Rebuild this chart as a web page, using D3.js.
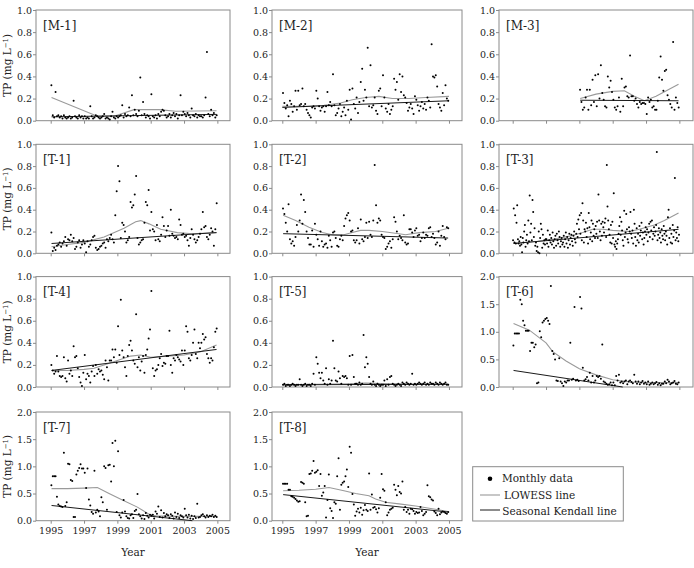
<!DOCTYPE html>
<html><head><meta charset="utf-8">
<script src="https://cdn.jsdelivr.net/npm/d3@7"></script>
<style>body{margin:0;background:#fff}svg{display:block}text{font-family:"DejaVu Serif",serif;fill:#222}</style>
</head><body><svg id="c" width="694" height="568"></svg>
<script>
// ---------- data ----------
const panelNames = ["[M-1]","[M-2]","[M-3]","[T-1]","[T-2]","[T-3]","[T-4]","[T-5]","[T-6]","[T-7]","[T-8]"];
const yTicks1 = [0,0.2,0.4,0.6,0.8,1.0];
const yTicks2 = [0,0.5,1.0,1.5,2.0];
const xTicks = [1995,1997,1999,2001,2003,2005];
const legendLabels = ["Monthly data","LOWESS line","Seasonal Kendall line"];

const m1Values = [0.32,0.05,0.03,0.26,0.04,0.05,0.03,0.04,0.02,0.05,0.03,0.02,
0.03,0.04,0.02,0.03,0.18,0.04,0.03,0.02,0.05,0.03,0.04,0.02,
0.04,0.02,0.03,0.02,0.13,0.04,0.02,0.03,0.05,0.04,0.03,0.02,
0.03,0.04,0.06,0.02,0.03,0.02,0.01,0.04,0.08,0.03,0.02,0.04,
0.03,0.04,0.05,0.14,0.03,0.06,0.04,0.05,0.12,0.04,0.23,0.05,
0.10,0.06,0.04,0.09,0.39,0.05,0.17,0.06,0.03,0.05,0.04,0.02,
0.24,0.04,0.03,0.05,0.02,0.06,0.04,0.08,0.10,0.09,0.05,0.03,
0.04,0.06,0.03,0.05,0.07,0.04,0.06,0.02,0.05,0.23,0.05,0.08,
0.06,0.04,0.07,0.05,0.03,0.11,0.05,0.04,0.06,0.03,0.05,0.04,
0.04,0.03,0.05,0.21,0.62,0.06,0.04,0.10,0.05,0.07,0.03,0.05];
const m1Lowess = [[1995.05,0.21],[1997.8,0.04],[1998.8,0.04],[2000.0,0.10],[2001.5,0.10],[2002.5,0.085],[2004.95,0.09]];
const m1Kendall = [[1995.05,0.035],[2004.95,0.057]];

const m2Values = [0.25,0.16,0.11,0.14,0.04,0.18,0.15,0.08,0.13,0.27,0.10,0.27,
0.14,0.15,0.29,0.13,0.15,0.10,0.07,0.05,0.03,0.12,0.13,0.11,
0.27,0.20,0.13,0.09,0.12,0.13,0.08,0.13,0.26,0.14,0.17,0.13,
0.42,0.14,0.05,0.07,0.11,0.15,0.04,0.08,0.12,0.05,0.18,0.10,
0.28,0.01,0.29,0.15,0.11,0.21,0.07,0.17,0.35,0.47,0.18,0.28,
0.21,0.66,0.13,0.50,0.12,0.14,0.21,0.09,0.06,0.27,0.29,0.13,
0.41,0.21,0.11,0.08,0.15,0.06,0.10,0.13,0.38,0.28,0.35,0.19,
0.42,0.26,0.40,0.23,0.21,0.16,0.09,0.12,0.15,0.11,0.06,0.22,
0.19,0.14,0.09,0.13,0.17,0.11,0.15,0.10,0.21,0.18,0.12,0.69,
0.40,0.39,0.41,0.31,0.15,0.12,0.09,0.25,0.14,0.32,0.20,0.18];
const m2Lowess = [[1995.0,0.13],[1996.5,0.13],[1997.5,0.14],[1998.5,0.16],[1999.2,0.19],[2000.0,0.21],[2000.8,0.22],[2001.6,0.20],[2002.6,0.20],[2003.6,0.21],[2005.0,0.22]];
const m2Kendall = [[1995.0,0.12],[2005.0,0.18]];

const m3Values = [0.28,0.17,0.10,0.12,0.21,0.28,0.10,0.28,0.14,0.37,0.17,0.41,
0.13,0.42,0.20,0.50,0.25,0.19,0.13,0.12,0.40,0.30,0.36,0.26,
0.19,0.12,0.10,0.13,0.21,0.08,0.38,0.13,0.30,0.31,0.22,0.21,
0.59,0.22,0.22,0.18,0.20,0.15,0.12,0.17,0.15,0.16,0.16,0.15,
0.06,0.21,0.17,0.19,0.12,0.13,0.10,0.10,0.18,0.39,0.58,0.37,
0.27,0.45,0.46,0.23,0.19,0.15,0.12,0.71,0.10,0.21,0.16,0.12];
const m3Lowess = [[1999.05,0.20],[2000.0,0.24],[2001.0,0.265],[2001.7,0.27],[2002.3,0.22],[2002.9,0.18],[2003.6,0.22],[2004.95,0.33]];
const m3Kendall = [[1999.05,0.185],[2004.95,0.18]];

const t1Values = [0.19,0.02,0.05,0.03,0.07,0.08,0.10,0.06,0.09,0.11,0.15,0.07,
0.13,0.12,0.17,0.11,0.14,0.04,0.06,0.10,0.12,0.05,0.08,0.12,
0.09,0.01,0.11,0.06,0.08,0.12,0.15,0.16,0.05,0.03,0.04,0.06,
0.07,0.09,0.10,0.05,0.13,0.11,0.14,0.17,0.13,0.10,0.35,0.57,
0.80,0.66,0.14,0.28,0.26,0.20,0.10,0.12,0.15,0.47,0.42,0.44,
0.54,0.71,0.14,0.08,0.10,0.12,0.13,0.28,0.47,0.44,0.58,0.21,
0.38,0.22,0.20,0.12,0.26,0.13,0.11,0.17,0.33,0.25,0.15,0.21,
0.25,0.16,0.40,0.18,0.16,0.14,0.15,0.13,0.31,0.26,0.17,0.18,
0.15,0.16,0.12,0.07,0.14,0.22,0.17,0.13,0.10,0.12,0.15,0.18,
0.22,0.38,0.24,0.25,0.15,0.13,0.17,0.23,0.20,0.07,0.22,0.46];
const t1Lowess = [[1995.05,0.06],[1996.0,0.08],[1997.0,0.10],[1998.2,0.15],[1999.4,0.23],[2000.1,0.29],[2000.4,0.30],[2000.9,0.27],[2001.6,0.22],[2002.6,0.19],[2003.5,0.18],[2004.95,0.19]];
const t1Kendall = [[1995.05,0.09],[2004.95,0.19]];

const t2Values = [0.41,0.36,0.28,0.20,0.45,0.13,0.09,0.11,0.07,0.15,0.26,0.20,
0.30,0.54,0.27,0.49,0.38,0.20,0.14,0.08,0.08,0.21,0.06,0.27,
0.17,0.13,0.07,0.20,0.11,0.06,0.08,0.09,0.05,0.16,0.12,0.06,
0.19,0.20,0.14,0.07,0.06,0.13,0.16,0.12,0.25,0.32,0.35,0.37,
0.30,0.20,0.21,0.12,0.10,0.12,0.23,0.09,0.31,0.13,0.11,0.15,
0.28,0.14,0.29,0.17,0.15,0.30,0.81,0.44,0.28,0.32,0.30,0.17,
0.15,0.14,0.04,0.06,0.09,0.11,0.05,0.13,0.33,0.29,0.20,0.13,
0.16,0.14,0.12,0.35,0.10,0.08,0.09,0.22,0.22,0.19,0.15,0.21,
0.23,0.16,0.17,0.11,0.14,0.19,0.14,0.17,0.16,0.23,0.24,0.15,
0.18,0.14,0.08,0.10,0.20,0.07,0.16,0.25,0.15,0.13,0.24,0.23];
const t2Lowess = [[1995.05,0.35],[1995.8,0.30],[1996.6,0.24],[1997.4,0.19],[1998.0,0.17],[1998.7,0.17],[1999.2,0.19],[1999.7,0.21],[2000.2,0.21],[2001.0,0.20],[2002.0,0.18],[2002.4,0.17],[2003.2,0.19],[2004.2,0.20],[2004.95,0.23]];
const t2Kendall = [[1995.05,0.18],[2004.95,0.14]];

const t3Values = [0.12,0.41,0.10,0.35,0.09,0.28,0.44,0.13,0.09,0.11,0.07,0.15,0.08,0.01,0.14,0.10,0.20,0.26,0.06,0.12,0.17,0.09,0.30,0.11,
0.53,0.19,0.27,0.12,0.49,0.38,0.15,0.23,0.07,0.10,0.02,0.06,0.01,0.20,0.00,0.14,0.27,0.22,0.05,0.17,0.09,0.12,0.08,0.13,
0.13,0.09,0.21,0.06,0.12,0.17,0.10,0.14,0.08,0.19,0.11,0.05,0.13,0.16,0.07,0.18,0.12,0.09,0.20,0.15,0.06,0.11,0.14,0.08,
0.10,0.16,0.06,0.13,0.19,0.09,0.15,0.05,0.12,0.18,0.08,0.14,0.17,0.11,0.07,0.16,0.20,0.13,0.10,0.18,0.27,0.15,0.31,0.22,
0.35,0.18,0.37,0.12,0.46,0.30,0.10,0.22,0.20,0.28,0.15,0.23,0.09,0.37,0.24,0.13,0.19,0.30,0.11,0.27,0.16,0.22,0.14,0.25,
0.18,0.29,0.14,0.54,0.30,0.20,0.12,0.27,0.16,0.29,0.24,0.19,0.28,0.32,0.15,0.81,0.43,0.30,0.22,0.17,0.10,0.26,0.09,0.29,
0.14,0.55,0.08,0.06,0.11,0.04,0.09,0.13,0.18,0.25,0.33,0.17,0.29,0.21,0.12,0.07,0.39,0.15,0.19,0.36,0.22,0.13,0.10,0.24,
0.20,0.38,0.18,0.14,0.21,0.09,0.40,0.27,0.15,0.07,0.23,0.12,0.18,0.10,0.25,0.16,0.21,0.28,0.13,0.19,0.08,0.14,0.20,0.24,
0.17,0.22,0.11,0.19,0.27,0.15,0.29,0.21,0.30,0.13,0.18,0.24,0.16,0.20,0.26,0.93,0.12,0.17,0.23,0.14,0.19,0.10,0.22,0.16,
0.13,0.25,0.18,0.12,0.20,0.16,0.08,0.33,0.40,0.14,0.23,0.10,0.18,0.09,0.26,0.15,0.21,0.69,0.12,0.19,0.14,0.24,0.11,0.17];
const t3Lowess = [[1995.05,0.09],[1996.5,0.11],[1997.5,0.13],[1998.5,0.16],[1999.2,0.19],[1999.8,0.22],[2000.4,0.22],[2001.0,0.21],[2002.0,0.20],[2002.6,0.22],[2003.5,0.26],[2004.1,0.30],[2004.95,0.37]];
const t3Kendall = [[1995.05,0.09],[2004.95,0.22]];

const t4Values = [0.20,0.15,0.12,0.14,0.28,0.14,0.10,0.09,0.10,0.27,0.08,0.05,
0.24,0.12,0.15,0.10,0.37,0.27,0.28,0.17,0.09,0.04,0.01,0.13,
0.29,0.07,0.12,0.10,0.04,0.14,0.19,0.10,0.20,0.12,0.16,0.14,
0.15,0.11,0.07,0.24,0.18,0.06,0.24,0.24,0.34,0.27,0.34,0.22,
0.55,0.29,0.79,0.33,0.27,0.18,0.10,0.28,0.38,0.42,0.33,0.24,
0.21,0.66,0.18,0.27,0.15,0.23,0.28,0.13,0.29,0.34,0.44,0.52,
0.87,0.17,0.10,0.15,0.16,0.20,0.26,0.30,0.19,0.22,0.21,0.28,
0.28,0.51,0.20,0.13,0.26,0.24,0.29,0.27,0.25,0.23,0.33,0.20,
0.33,0.55,0.50,0.26,0.24,0.29,0.40,0.52,0.30,0.26,0.40,0.35,
0.40,0.48,0.43,0.45,0.30,0.26,0.22,0.26,0.24,0.36,0.50,0.53];
const t4Lowess = [[1995.05,0.15],[1996.0,0.15],[1997.0,0.16],[1997.6,0.17],[1998.2,0.20],[1999.0,0.24],[1999.8,0.28],[2000.4,0.29],[2001.0,0.27],[2002.0,0.28],[2003.0,0.29],[2004.0,0.32],[2004.95,0.38]];
const t4Kendall = [[1995.05,0.15],[2004.95,0.34]];

const t5Values = [0.02,0.03,0.01,0.02,0.02,0.01,0.02,0.03,0.02,0.01,0.02,0.02,
0.07,0.02,0.01,0.02,0.03,0.01,0.02,0.02,0.01,0.03,0.12,0.02,
0.27,0.21,0.13,0.08,0.13,0.06,0.03,0.17,0.02,0.07,0.03,0.06,
0.42,0.17,0.06,0.05,0.14,0.08,0.03,0.10,0.09,0.10,0.08,0.02,
0.28,0.02,0.29,0.09,0.03,0.03,0.02,0.04,0.02,0.03,0.47,0.18,
0.27,0.21,0.09,0.03,0.02,0.05,0.02,0.01,0.03,0.02,0.01,0.02,
0.02,0.06,0.01,0.07,0.02,0.09,0.10,0.03,0.02,0.01,0.02,0.03,
0.02,0.01,0.04,0.03,0.02,0.04,0.03,0.02,0.03,0.12,0.02,0.03,
0.02,0.03,0.04,0.03,0.02,0.03,0.04,0.02,0.03,0.02,0.04,0.03,
0.03,0.02,0.04,0.03,0.02,0.04,0.03,0.02,0.03,0.04,0.02,0.02];
const t5Lowess = [[1995.05,0.02],[1997.0,0.025],[1999.0,0.03],[2000.0,0.035],[2001.5,0.03],[2003.0,0.025],[2004.95,0.025]];
const t5Kendall = [[1995.05,0.02],[2004.95,0.025]];

const t6Values = [0.75,0.97,0.97,0.97,0.97,1.58,1.50,1.20,1.12,1.02,1.02,1.02,
0.65,0.80,0.80,0.72,0.77,0.07,0.08,1.01,0.90,1.17,1.20,1.23,
1.25,1.20,1.14,1.83,0.65,0.60,0.50,0.12,0.11,0.52,0.10,0.07,
0.02,0.10,0.08,0.12,0.12,0.80,0.13,0.15,1.45,0.12,0.13,0.11,
1.63,1.42,0.35,0.12,0.14,0.18,0.12,0.26,0.08,0.20,0.08,0.12,
0.20,0.18,0.20,0.15,0.77,0.10,0.08,0.06,0.04,0.05,0.08,0.03,
0.08,0.03,0.20,0.12,0.22,0.08,0.10,0.07,0.10,0.12,0.05,0.10,
0.12,0.09,0.07,0.22,0.10,0.06,0.10,0.05,0.08,0.11,0.06,0.08,
0.05,0.10,0.04,0.06,0.08,0.05,0.07,0.09,0.04,0.07,0.03,0.06,
0.06,0.10,0.07,0.13,0.10,0.05,0.07,0.08,0.11,0.06,0.05,0.08];
const t6Lowess = [[1995.05,1.15],[1996.0,1.03],[1997.0,0.80],[1997.4,0.64],[1998.2,0.47],[1999.0,0.33],[2000.0,0.22],[2001.0,0.13],[2002.0,0.09],[2003.0,0.08],[2004.95,0.08]];
const t6Kendall = [[1995.05,0.30],[2001.6,0.0]];

const t7Values = [0.65,0.82,0.82,0.82,0.44,0.30,0.27,0.26,0.25,1.25,0.27,0.34,
1.05,1.04,0.75,0.73,0.07,0.07,0.85,0.92,0.97,1.04,0.96,0.96,
0.88,0.60,0.96,0.39,0.28,0.16,0.13,0.92,0.15,0.20,0.17,0.08,
0.43,0.34,1.00,0.97,0.20,1.02,1.03,0.72,1.43,1.00,1.47,0.16,
1.28,0.10,0.06,0.15,0.38,0.17,0.08,0.05,0.04,0.10,0.12,0.05,
0.18,0.20,0.49,0.12,0.08,0.04,0.10,0.03,0.14,0.09,0.06,0.11,
0.09,0.11,0.04,0.17,0.13,0.26,0.07,0.19,0.06,0.14,0.08,0.12,
0.10,0.05,0.12,0.09,0.04,0.15,0.07,0.13,0.05,0.10,0.08,0.06,
0.22,0.10,0.06,0.11,0.04,0.09,0.03,0.08,0.05,0.31,0.06,0.07,
0.10,0.12,0.08,0.06,0.10,0.07,0.09,0.08,0.11,0.07,0.09,0.07];
const t7Lowess = [[1995.05,0.59],[1996.0,0.59],[1997.0,0.60],[1997.8,0.61],[1998.5,0.50],[1999.3,0.38],[2000.2,0.25],[2000.9,0.12],[2001.3,0.09],[2002.5,0.08],[2004.95,0.08]];
const t7Kendall = [[1995.05,0.28],[2003.5,0.0]];

const t8Values = [0.68,0.68,0.68,0.68,0.57,0.57,0.45,0.44,0.42,0.40,0.37,0.35,
0.36,0.71,0.70,0.68,0.34,0.08,0.09,0.86,0.87,0.92,1.10,0.88,
0.90,0.93,0.64,0.86,0.46,0.52,0.64,0.06,0.38,0.85,0.23,0.18,
0.05,0.34,0.31,0.82,1.15,0.20,0.66,0.70,0.72,0.82,0.94,0.62,
1.36,1.25,0.49,0.30,0.09,0.17,0.22,0.15,0.24,0.11,0.19,0.29,
0.20,0.18,0.87,0.20,0.48,0.24,0.25,0.21,0.15,0.23,0.42,0.86,
0.58,0.55,0.34,0.10,0.15,0.20,0.22,0.24,0.66,0.57,0.47,0.64,
0.53,0.50,0.72,0.20,0.25,0.16,0.20,0.13,0.22,0.21,0.18,0.13,
0.16,0.14,0.15,0.25,0.18,0.10,0.13,0.16,0.65,0.45,0.43,0.39,
0.37,0.17,0.14,0.10,0.22,0.12,0.15,0.17,0.16,0.14,0.13,0.16];
const t8Lowess = [[1995.05,0.55],[1996.0,0.56],[1997.0,0.58],[1997.8,0.61],[1998.7,0.55],[1999.4,0.50],[2000.2,0.46],[2000.6,0.40],[2001.2,0.34],[2002.0,0.31],[2003.0,0.27],[2004.0,0.22],[2004.95,0.17]];
const t8Kendall = [[1995.05,0.48],[2004.95,0.16]];

// ---------- layout ----------
const cols = [{l:36,r:230,x0:50.7},{l:272,r:462,x0:282.3},{l:499,r:693,x0:512.7}];
const rows = [{t:10,b:120.7},{t:144.3,b:253.3},{t:276.6,b:387},{t:412,b:520.7}];
const pxPerYear = 16.667;

const panels = [
 {v:m1Values,lo:m1Lowess,sk:m1Kendall,start:1995,step:1/12,ymax:1,r:0,c:0},
 {v:m2Values,lo:m2Lowess,sk:m2Kendall,start:1995,step:1/12,ymax:1,r:0,c:1},
 {v:m3Values,lo:m3Lowess,sk:m3Kendall,start:1999,step:1/12,ymax:1,r:0,c:2},
 {v:t1Values,lo:t1Lowess,sk:t1Kendall,start:1995,step:1/12,ymax:1,r:1,c:0},
 {v:t2Values,lo:t2Lowess,sk:t2Kendall,start:1995,step:1/12,ymax:1,r:1,c:1},
 {v:t3Values,lo:t3Lowess,sk:t3Kendall,start:1995,step:1/24,ymax:1,r:1,c:2},
 {v:t4Values,lo:t4Lowess,sk:t4Kendall,start:1995,step:1/12,ymax:1,r:2,c:0},
 {v:t5Values,lo:t5Lowess,sk:t5Kendall,start:1995,step:1/12,ymax:1,r:2,c:1},
 {v:t6Values,lo:t6Lowess,sk:t6Kendall,start:1995,step:1/12,ymax:2,r:2,c:2},
 {v:t7Values,lo:t7Lowess,sk:t7Kendall,start:1995,step:1/12,ymax:2,r:3,c:0},
 {v:t8Values,lo:t8Lowess,sk:t8Kendall,start:1995,step:1/12,ymax:2,r:3,c:1}
];

const svg = d3.select("#c");
const frameColor = "#8a8a8a";

panels.forEach((p,i)=>{
  const C = cols[p.c], R = rows[p.r];
  const x = d3.scaleLinear().domain([1995,2005]).range([C.x0, C.x0 + 10*pxPerYear]);
  const y = d3.scaleLinear().domain([0,p.ymax]).range([R.b, R.t]);
  const g = svg.append("g");
  g.append("rect").attr("x",C.l).attr("y",R.t).attr("width",C.r-C.l).attr("height",R.b-R.t)
   .attr("fill","none").attr("stroke",frameColor).attr("stroke-width",1);
  const ya = d3.axisLeft(y).tickValues(p.ymax===1?yTicks1:yTicks2).tickFormat(d3.format(".1f")).tickSize(3).tickPadding(1);
  const yg = g.append("g").attr("transform",`translate(${C.l},0)`).call(ya);
  yg.select(".domain").remove();
  yg.attr("font-family","DejaVu Serif").attr("font-size",9.5);
  yg.selectAll("line").attr("stroke",frameColor);
  yg.selectAll("text").attr("fill","#222");
  const xa = d3.axisBottom(x).tickValues(xTicks).tickSize(3).tickPadding(4).tickFormat(p.r===3? d3.format("d") : ()=>"");
  const xg = g.append("g").attr("transform",`translate(0,${R.b})`).call(xa);
  xg.select(".domain").remove();
  xg.attr("font-family","DejaVu Serif").attr("font-size",9.5);
  xg.selectAll("line").attr("stroke",frameColor);
  xg.selectAll("text").attr("fill","#222");
  const line = d3.line().x(d=>x(d[0])).y(d=>y(d[1]));
  g.append("path").attr("d",line(p.lo)).attr("fill","none").attr("stroke","#9a9a9a").attr("stroke-width",1.1);
  g.append("path").attr("d",line(p.sk)).attr("fill","none").attr("stroke","#1a1a1a").attr("stroke-width",1);
  g.selectAll("circle").data(p.v).join("circle")
   .attr("cx",(d,j)=>x(p.start + (j+0.5)*p.step)).attr("cy",d=>y(d)).attr("r",1).attr("fill","#000");
  g.append("text").attr("x",C.l+7).attr("y",R.t+19.5).attr("font-size","12px").text(panelNames[i]);
  if(p.c===0){
    const cy = (R.t+R.b)/2;
    const t = g.append("text").attr("transform",`translate(11,${cy}) rotate(-90)`).attr("text-anchor","middle").attr("font-size","10.5px");
    t.append("tspan").text("TP (mg L");
    t.append("tspan").attr("dy",-3.5).attr("font-size","7px").text("−1");
    t.append("tspan").attr("dy",3.5).text(")");
  }
  if(p.r===3){
    svg.append("text").attr("x",(C.l+C.r)/2).attr("y",556).attr("text-anchor","middle").attr("font-size","10.5px").text("Year");
  }
});

// legend
const lg = svg.append("g");
lg.append("rect").attr("x",472.7).attr("y",466.7).attr("width",150.6).attr("height",54.3).attr("fill","#fff").attr("stroke",frameColor);
lg.append("circle").attr("cx",490).attr("cy",478.7).attr("r",2.3).attr("fill","#000");
lg.append("line").attr("x1",480).attr("x2",500).attr("y1",495).attr("y2",495).attr("stroke","#9a9a9a").attr("stroke-width",1.1);
lg.append("line").attr("x1",480).attr("x2",500).attr("y1",510).attr("y2",510).attr("stroke","#1a1a1a");
[[502,482.3],[504,499.3],[502.3,514.8]].forEach((pos,k)=>{
  lg.append("text").attr("x",pos[0]).attr("y",pos[1]).attr("font-size","10.5px").text(legendLabels[k]);
});
</script></body></html>
